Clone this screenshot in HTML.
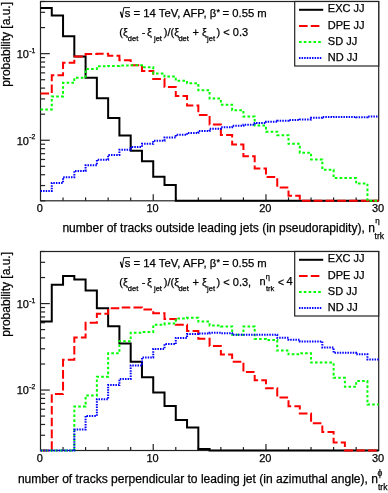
<!DOCTYPE html><html><head><meta charset="utf-8"><style>html,body{margin:0;padding:0;background:#fff;}svg{display:block;will-change:transform} text{font-family:"Liberation Sans",sans-serif;fill:#000;stroke:#000;stroke-width:0.25px}</style></head><body>
<svg width="388" height="493" viewBox="0 0 388 493">
<rect x="40.5" y="1.5" width="338.20" height="199.30" stroke="#222" stroke-width="1.2" fill="none"/>
<g stroke="#222" stroke-width="1.2" fill="none">
<line x1="40.5" y1="200.80" x2="45.1" y2="200.80"/>
<line x1="40.5" y1="185.55" x2="45.1" y2="185.55"/>
<line x1="40.5" y1="174.73" x2="45.1" y2="174.73"/>
<line x1="40.5" y1="166.33" x2="45.1" y2="166.33"/>
<line x1="40.5" y1="159.47" x2="45.1" y2="159.47"/>
<line x1="40.5" y1="153.68" x2="45.1" y2="153.68"/>
<line x1="40.5" y1="148.65" x2="45.1" y2="148.65"/>
<line x1="40.5" y1="144.22" x2="45.1" y2="144.22"/>
<line x1="40.5" y1="140.26" x2="49.8" y2="140.26"/>
<line x1="40.5" y1="114.19" x2="45.1" y2="114.19"/>
<line x1="40.5" y1="98.93" x2="45.1" y2="98.93"/>
<line x1="40.5" y1="88.11" x2="45.1" y2="88.11"/>
<line x1="40.5" y1="79.72" x2="45.1" y2="79.72"/>
<line x1="40.5" y1="72.86" x2="45.1" y2="72.86"/>
<line x1="40.5" y1="67.06" x2="45.1" y2="67.06"/>
<line x1="40.5" y1="62.04" x2="45.1" y2="62.04"/>
<line x1="40.5" y1="57.61" x2="45.1" y2="57.61"/>
<line x1="40.5" y1="53.65" x2="49.8" y2="53.65"/>
<line x1="40.5" y1="27.57" x2="45.1" y2="27.57"/>
<line x1="40.5" y1="12.32" x2="45.1" y2="12.32"/>
<line x1="40.5" y1="1.50" x2="45.1" y2="1.50"/>
<line x1="63.05" y1="200.8" x2="63.05" y2="197.4"/>
<line x1="85.59" y1="200.8" x2="85.59" y2="197.4"/>
<line x1="108.14" y1="200.8" x2="108.14" y2="197.4"/>
<line x1="130.69" y1="200.8" x2="130.69" y2="197.4"/>
<line x1="153.23" y1="200.8" x2="153.23" y2="194.3"/>
<line x1="175.78" y1="200.8" x2="175.78" y2="197.4"/>
<line x1="198.33" y1="200.8" x2="198.33" y2="197.4"/>
<line x1="220.87" y1="200.8" x2="220.87" y2="197.4"/>
<line x1="243.42" y1="200.8" x2="243.42" y2="197.4"/>
<line x1="265.97" y1="200.8" x2="265.97" y2="194.3"/>
<line x1="288.51" y1="200.8" x2="288.51" y2="197.4"/>
<line x1="311.06" y1="200.8" x2="311.06" y2="197.4"/>
<line x1="333.61" y1="200.8" x2="333.61" y2="197.4"/>
<line x1="356.15" y1="200.8" x2="356.15" y2="197.4"/>
</g>
<path d="M40.50,7.90 L51.77,7.90 L51.77,15.60 L63.05,15.60 L63.05,36.30 L74.32,36.30 L74.32,56.50 L85.59,56.50 L85.59,77.80 L96.87,77.80 L96.87,98.20 L108.14,98.20 L108.14,118.00 L119.41,118.00 L119.41,135.60 L130.69,135.60 L130.69,150.80 L141.96,150.80 L141.96,161.30 L153.23,161.30 L153.23,176.80 L164.51,176.80 L164.51,185.00 L175.78,185.00 L175.78,200.80 L187.05,200.80 L187.05,200.80 L198.33,200.80 L198.33,200.80 L209.60,200.80 L209.60,200.80 L220.87,200.80 L220.87,200.80 L232.15,200.80 L232.15,200.80 L243.42,200.80 L243.42,200.80 L254.69,200.80 L254.69,200.80 L265.97,200.80 L265.97,200.80 L277.24,200.80 L277.24,200.80 L288.51,200.80 L288.51,200.80 L299.79,200.80 L299.79,200.80 L311.06,200.80 L311.06,200.80 L322.33,200.80 L322.33,200.80 L333.61,200.80 L333.61,200.80 L344.88,200.80 L344.88,200.80 L356.15,200.80 L356.15,200.80 L367.43,200.80 L367.43,200.80 L378.70,200.80" fill="none" stroke="#000" stroke-width="2"/>
<path d="M40.50,93.60 L51.77,93.60 L51.77,75.20 L63.05,75.20 L63.05,62.80 L74.32,62.80 L74.32,56.50 L85.59,56.50 L85.59,54.00 L96.87,54.00 L96.87,53.70 L108.14,53.70 L108.14,55.80 L119.41,55.80 L119.41,60.20 L130.69,60.20 L130.69,65.20 L141.96,65.20 L141.96,71.00 L153.23,71.00 L153.23,79.00 L164.51,79.00 L164.51,87.00 L175.78,87.00 L175.78,96.00 L187.05,96.00 L187.05,105.60 L198.33,105.60 L198.33,115.00 L209.60,115.00 L209.60,124.60 L220.87,124.60 L220.87,135.00 L232.15,135.00 L232.15,144.50 L243.42,144.50 L243.42,156.20 L254.69,156.20 L254.69,168.40 L265.97,168.40 L265.97,177.10 L277.24,177.10 L277.24,187.60 L288.51,187.60 L288.51,195.70 L299.79,195.70 L299.79,200.80 L311.06,200.80 L311.06,200.80 L322.33,200.80 L322.33,200.80 L333.61,200.80 L333.61,200.80 L344.88,200.80 L344.88,200.80 L356.15,200.80 L356.15,200.80 L367.43,200.80 L367.43,200.80 L378.70,200.80" fill="none" stroke="#f00" stroke-width="2" stroke-dasharray="8.6 3.2"/>
<path d="M40.50,109.50 L51.77,109.50 L51.77,96.40 L63.05,96.40 L63.05,82.80 L74.32,82.80 L74.32,77.80 L85.59,77.80 L85.59,68.90 L96.87,68.90 L96.87,66.30 L108.14,66.30 L108.14,65.90 L119.41,65.90 L119.41,65.50 L130.69,65.50 L130.69,65.30 L141.96,65.30 L141.96,67.30 L153.23,67.30 L153.23,73.60 L164.51,73.60 L164.51,76.60 L175.78,76.60 L175.78,80.80 L187.05,80.80 L187.05,83.30 L198.33,83.30 L198.33,90.30 L209.60,90.30 L209.60,98.60 L220.87,98.60 L220.87,104.70 L232.15,104.70 L232.15,110.30 L243.42,110.30 L243.42,116.50 L254.69,116.50 L254.69,125.60 L265.97,125.60 L265.97,131.70 L277.24,131.70 L277.24,135.20 L288.51,135.20 L288.51,143.80 L299.79,143.80 L299.79,152.80 L311.06,152.80 L311.06,159.40 L322.33,159.40 L322.33,169.70 L333.61,169.70 L333.61,178.00 L344.88,178.00 L344.88,178.00 L356.15,178.00 L356.15,183.60 L367.43,183.60 L367.43,200.80 L378.70,200.80" fill="none" stroke="#0f0" stroke-width="2" stroke-dasharray="2.6 2.2"/>
<path d="M40.50,191.00 L51.77,191.00 L51.77,183.00 L63.05,183.00 L63.05,177.30 L74.32,177.30 L74.32,170.90 L85.59,170.90 L85.59,165.20 L96.87,165.20 L96.87,159.80 L108.14,159.80 L108.14,154.90 L119.41,154.90 L119.41,149.70 L130.69,149.70 L130.69,147.00 L141.96,147.00 L141.96,143.80 L153.23,143.80 L153.23,140.70 L164.51,140.70 L164.51,137.40 L175.78,137.40 L175.78,134.80 L187.05,134.80 L187.05,133.00 L198.33,133.00 L198.33,131.00 L209.60,131.00 L209.60,128.80 L220.87,128.80 L220.87,127.30 L232.15,127.30 L232.15,125.80 L243.42,125.80 L243.42,124.80 L254.69,124.80 L254.69,123.10 L265.97,123.10 L265.97,121.80 L277.24,121.80 L277.24,120.80 L288.51,120.80 L288.51,120.10 L299.79,120.10 L299.79,119.60 L311.06,119.60 L311.06,117.80 L322.33,117.80 L322.33,117.00 L333.61,117.00 L333.61,116.90 L344.88,116.90 L344.88,116.90 L356.15,116.90 L356.15,117.30 L367.43,117.30 L367.43,116.50 L378.70,116.50" fill="none" stroke="#00f" stroke-width="2" stroke-dasharray="1.5 1.1"/>
<rect x="40.5" y="251.5" width="338.20" height="199.00" stroke="#222" stroke-width="1.2" fill="none"/>
<g stroke="#222" stroke-width="1.2" fill="none">
<line x1="40.5" y1="450.50" x2="45.1" y2="450.50"/>
<line x1="40.5" y1="435.27" x2="45.1" y2="435.27"/>
<line x1="40.5" y1="424.47" x2="45.1" y2="424.47"/>
<line x1="40.5" y1="416.08" x2="45.1" y2="416.08"/>
<line x1="40.5" y1="409.24" x2="45.1" y2="409.24"/>
<line x1="40.5" y1="403.45" x2="45.1" y2="403.45"/>
<line x1="40.5" y1="398.43" x2="45.1" y2="398.43"/>
<line x1="40.5" y1="394.01" x2="45.1" y2="394.01"/>
<line x1="40.5" y1="390.05" x2="49.8" y2="390.05"/>
<line x1="40.5" y1="364.02" x2="45.1" y2="364.02"/>
<line x1="40.5" y1="348.79" x2="45.1" y2="348.79"/>
<line x1="40.5" y1="337.98" x2="45.1" y2="337.98"/>
<line x1="40.5" y1="329.60" x2="45.1" y2="329.60"/>
<line x1="40.5" y1="322.75" x2="45.1" y2="322.75"/>
<line x1="40.5" y1="316.96" x2="45.1" y2="316.96"/>
<line x1="40.5" y1="311.95" x2="45.1" y2="311.95"/>
<line x1="40.5" y1="307.53" x2="45.1" y2="307.53"/>
<line x1="40.5" y1="303.57" x2="49.8" y2="303.57"/>
<line x1="40.5" y1="277.53" x2="45.1" y2="277.53"/>
<line x1="40.5" y1="262.31" x2="45.1" y2="262.31"/>
<line x1="40.5" y1="251.50" x2="45.1" y2="251.50"/>
<line x1="63.05" y1="450.5" x2="63.05" y2="447.1"/>
<line x1="85.59" y1="450.5" x2="85.59" y2="447.1"/>
<line x1="108.14" y1="450.5" x2="108.14" y2="447.1"/>
<line x1="130.69" y1="450.5" x2="130.69" y2="447.1"/>
<line x1="153.23" y1="450.5" x2="153.23" y2="444.0"/>
<line x1="175.78" y1="450.5" x2="175.78" y2="447.1"/>
<line x1="198.33" y1="450.5" x2="198.33" y2="447.1"/>
<line x1="220.87" y1="450.5" x2="220.87" y2="447.1"/>
<line x1="243.42" y1="450.5" x2="243.42" y2="447.1"/>
<line x1="265.97" y1="450.5" x2="265.97" y2="444.0"/>
<line x1="288.51" y1="450.5" x2="288.51" y2="447.1"/>
<line x1="311.06" y1="450.5" x2="311.06" y2="447.1"/>
<line x1="333.61" y1="450.5" x2="333.61" y2="447.1"/>
<line x1="356.15" y1="450.5" x2="356.15" y2="447.1"/>
</g>
<path d="M40.50,321.60 L51.77,321.60 L51.77,284.80 L63.05,284.80 L63.05,276.00 L74.32,276.00 L74.32,279.50 L85.59,279.50 L85.59,290.50 L96.87,290.50 L96.87,308.20 L108.14,308.20 L108.14,326.20 L119.41,326.20 L119.41,343.60 L130.69,343.60 L130.69,361.80 L141.96,361.80 L141.96,377.30 L153.23,377.30 L153.23,392.40 L164.51,392.40 L164.51,405.90 L175.78,405.90 L175.78,420.00 L187.05,420.00 L187.05,427.60 L198.33,427.60 L198.33,448.90 L209.60,448.90 L209.60,450.50 L220.87,450.50 L220.87,450.50 L232.15,450.50 L232.15,450.50 L243.42,450.50 L243.42,450.50 L254.69,450.50 L254.69,450.50 L265.97,450.50 L265.97,450.50 L277.24,450.50 L277.24,450.50 L288.51,450.50 L288.51,450.50 L299.79,450.50 L299.79,450.50 L311.06,450.50 L311.06,450.50 L322.33,450.50 L322.33,450.50 L333.61,450.50 L333.61,450.50 L344.88,450.50 L344.88,450.50 L356.15,450.50 L356.15,450.50 L367.43,450.50 L367.43,450.50 L378.70,450.50" fill="none" stroke="#000" stroke-width="2"/>
<path d="M40.50,450.50 L51.77,450.50 L51.77,394.10 L63.05,394.10 L63.05,359.80 L74.32,359.80 L74.32,337.50 L85.59,337.50 L85.59,322.70 L96.87,322.70 L96.87,313.80 L108.14,313.80 L108.14,308.30 L119.41,308.30 L119.41,307.50 L130.69,307.50 L130.69,307.50 L141.96,307.50 L141.96,309.40 L153.23,309.40 L153.23,313.20 L164.51,313.20 L164.51,318.90 L175.78,318.90 L175.78,324.80 L187.05,324.80 L187.05,331.00 L198.33,331.00 L198.33,338.70 L209.60,338.70 L209.60,346.10 L220.87,346.10 L220.87,354.50 L232.15,354.50 L232.15,361.70 L243.42,361.70 L243.42,372.10 L254.69,372.10 L254.69,380.30 L265.97,380.30 L265.97,388.30 L277.24,388.30 L277.24,397.50 L288.51,397.50 L288.51,406.20 L299.79,406.20 L299.79,413.50 L311.06,413.50 L311.06,423.20 L322.33,423.20 L322.33,432.10 L333.61,432.10 L333.61,442.40 L344.88,442.40 L344.88,450.50 L356.15,450.50 L356.15,450.50 L367.43,450.50 L367.43,450.50 L378.70,450.50" fill="none" stroke="#f00" stroke-width="2" stroke-dasharray="8.6 3.2"/>
<path d="M40.50,450.50 L51.77,450.50 L51.77,450.50 L63.05,450.50 L63.05,450.50 L74.32,450.50 L74.32,406.60 L85.59,406.60 L85.59,395.50 L96.87,395.50 L96.87,376.80 L108.14,376.80 L108.14,353.30 L119.41,353.30 L119.41,341.20 L130.69,341.20 L130.69,332.70 L141.96,332.70 L141.96,332.00 L153.23,332.00 L153.23,324.80 L164.51,324.80 L164.51,323.50 L175.78,323.50 L175.78,318.60 L187.05,318.60 L187.05,317.80 L198.33,317.80 L198.33,321.60 L209.60,321.60 L209.60,325.50 L220.87,325.50 L220.87,326.50 L232.15,326.50 L232.15,334.70 L243.42,334.70 L243.42,326.50 L254.69,326.50 L254.69,338.90 L265.97,338.90 L265.97,340.10 L277.24,340.10 L277.24,350.60 L288.51,350.60 L288.51,354.30 L299.79,354.30 L299.79,353.30 L311.06,353.30 L311.06,362.60 L322.33,362.60 L322.33,362.60 L333.61,362.60 L333.61,377.80 L344.88,377.80 L344.88,386.70 L356.15,386.70 L356.15,381.10 L367.43,381.10 L367.43,404.60 L378.70,404.60" fill="none" stroke="#0f0" stroke-width="2" stroke-dasharray="2.6 2.2"/>
<path d="M40.50,450.50 L51.77,450.50 L51.77,450.50 L63.05,450.50 L63.05,450.50 L74.32,450.50 L74.32,429.50 L85.59,429.50 L85.59,415.90 L96.87,415.90 L96.87,399.30 L108.14,399.30 L108.14,385.00 L119.41,385.00 L119.41,379.00 L130.69,379.00 L130.69,365.50 L141.96,365.50 L141.96,357.50 L153.23,357.50 L153.23,349.00 L164.51,349.00 L164.51,344.10 L175.78,344.10 L175.78,337.90 L187.05,337.90 L187.05,334.10 L198.33,334.10 L198.33,333.50 L209.60,333.50 L209.60,332.80 L220.87,332.80 L220.87,333.20 L232.15,333.20 L232.15,334.70 L243.42,334.70 L243.42,334.70 L254.69,334.70 L254.69,334.70 L265.97,334.70 L265.97,334.70 L277.24,334.70 L277.24,337.80 L288.51,337.80 L288.51,339.80 L299.79,339.80 L299.79,341.40 L311.06,341.40 L311.06,341.40 L322.33,341.40 L322.33,347.50 L333.61,347.50 L333.61,352.70 L344.88,352.70 L344.88,352.70 L356.15,352.70 L356.15,354.30 L367.43,354.30 L367.43,359.50 L378.70,359.50" fill="none" stroke="#00f" stroke-width="2" stroke-dasharray="1.5 1.1"/>
<path d="M120.4,11.8 L122.2,17.6" stroke="#000" stroke-width="1.4" fill="none"/>
<path d="M122.2,17.6 L123.8,7.6 L130,7.6" stroke="#000" stroke-width="0.9" fill="none"/>
<text font-family="Liberation Sans" x="124.8" y="17.3" font-size="11.3" text-anchor="start" >s = 14 TeV, AFP, β</text>
<text font-family="Liberation Sans" x="216.6" y="14.6" font-size="9" text-anchor="start" >*</text>
<text font-family="Liberation Sans" x="222.5" y="17.3" font-size="11.3" text-anchor="start" >= 0.55 m</text>
<text font-family="Liberation Sans" x="119.3" y="35.8" font-size="11" text-anchor="start" >(ξ</text>
<text font-family="Liberation Sans" x="127.8" y="41.3" font-size="7.5" text-anchor="start" >det</text>
<text font-family="Liberation Sans" x="141.7" y="35.8" font-size="11" text-anchor="start" >-</text>
<text font-family="Liberation Sans" x="147.0" y="35.8" font-size="11" text-anchor="start" >ξ</text>
<text font-family="Liberation Sans" x="154.0" y="41.3" font-size="7.5" text-anchor="start" >jet</text>
<text font-family="Liberation Sans" x="163.8" y="35.8" font-size="11" text-anchor="start" >)/(ξ</text>
<text font-family="Liberation Sans" x="178.4" y="41.3" font-size="7.5" text-anchor="start" >det</text>
<text font-family="Liberation Sans" x="192.6" y="35.8" font-size="11" text-anchor="start" >+ ξ</text>
<text font-family="Liberation Sans" x="207.1" y="41.3" font-size="7.5" text-anchor="start" >jet</text>
<text font-family="Liberation Sans" x="216.6" y="35.8" font-size="11" text-anchor="start" >) &lt; 0.3</text>
<rect x="294.7" y="1.5" width="84.0" height="64.5" fill="#fff" stroke="#222" stroke-width="1.2"/>
<path d="M299,9.8 L323.2,9.8" fill="none" stroke="#000" stroke-width="2"/>
<text font-family="Liberation Sans" x="327.8" y="12.4" font-size="11" text-anchor="start" >EXC JJ</text>
<path d="M299,25.900000000000002 L319.6,25.900000000000002" fill="none" stroke="#f00" stroke-width="2" stroke-dasharray="8.6 3.2"/>
<text font-family="Liberation Sans" x="327.8" y="28.500000000000004" font-size="11" text-anchor="start" >DPE JJ</text>
<path d="M299,42.0 L321,42.0" fill="none" stroke="#0f0" stroke-width="2" stroke-dasharray="2.6 2.2"/>
<text font-family="Liberation Sans" x="327.8" y="44.6" font-size="11" text-anchor="start" >SD JJ</text>
<path d="M299,58.10000000000001 L322,58.10000000000001" fill="none" stroke="#00f" stroke-width="2" stroke-dasharray="1.5 1.1"/>
<text font-family="Liberation Sans" x="327.8" y="60.70000000000001" font-size="11" text-anchor="start" >ND JJ</text>
<text font-family="Liberation Sans" x="28.9" y="58.046454630218186" font-size="11" text-anchor="end" >10</text>
<text font-family="Liberation Sans" x="29.3" y="52.84645463021819" font-size="6.8" text-anchor="start" >-1</text>
<text font-family="Liberation Sans" x="28.9" y="144.65984097266366" font-size="11" text-anchor="end" >10</text>
<text font-family="Liberation Sans" x="29.3" y="139.45984097266364" font-size="6.8" text-anchor="start" >-2</text>
<text font-family="Liberation Sans" x="39.80" y="212.4" font-size="11" text-anchor="middle" >0</text>
<text font-family="Liberation Sans" x="152.53" y="212.4" font-size="11" text-anchor="middle" >10</text>
<text font-family="Liberation Sans" x="265.27" y="212.4" font-size="11" text-anchor="middle" >20</text>
<text font-family="Liberation Sans" x="378.00" y="212.4" font-size="11" text-anchor="middle" >30</text>
<text font-family="Liberation Sans" transform="translate(10.2,2) rotate(-90)" font-size="12" text-anchor="end">probability [a.u.]</text>
<path d="M120.4,261.8 L122.2,267.6" stroke="#000" stroke-width="1.4" fill="none"/>
<path d="M122.2,267.6 L123.8,257.6 L130,257.6" stroke="#000" stroke-width="0.9" fill="none"/>
<text font-family="Liberation Sans" x="124.8" y="267.3" font-size="11.3" text-anchor="start" >s = 14 TeV, AFP, β</text>
<text font-family="Liberation Sans" x="216.6" y="264.6" font-size="9" text-anchor="start" >*</text>
<text font-family="Liberation Sans" x="222.5" y="267.3" font-size="11.3" text-anchor="start" >= 0.55 m</text>
<text font-family="Liberation Sans" x="119.3" y="285.8" font-size="11" text-anchor="start" >(ξ</text>
<text font-family="Liberation Sans" x="127.8" y="291.3" font-size="7.5" text-anchor="start" >det</text>
<text font-family="Liberation Sans" x="141.7" y="285.8" font-size="11" text-anchor="start" >-</text>
<text font-family="Liberation Sans" x="147.0" y="285.8" font-size="11" text-anchor="start" >ξ</text>
<text font-family="Liberation Sans" x="154.0" y="291.3" font-size="7.5" text-anchor="start" >jet</text>
<text font-family="Liberation Sans" x="163.8" y="285.8" font-size="11" text-anchor="start" >)/(ξ</text>
<text font-family="Liberation Sans" x="178.4" y="291.3" font-size="7.5" text-anchor="start" >det</text>
<text font-family="Liberation Sans" x="192.6" y="285.8" font-size="11" text-anchor="start" >+ ξ</text>
<text font-family="Liberation Sans" x="207.1" y="291.3" font-size="7.5" text-anchor="start" >jet</text>
<text font-family="Liberation Sans" x="216.6" y="285.8" font-size="11" text-anchor="start" >) &lt; 0.3,</text>
<text font-family="Liberation Sans" x="259.6" y="285.40000000000003" font-size="11" text-anchor="start" >n</text>
<text font-family="Liberation Sans" x="265.8" y="278.6" font-size="7.5" text-anchor="start" >η</text>
<text font-family="Liberation Sans" x="265.9" y="291.1" font-size="7.5" text-anchor="start" >trk</text>
<text font-family="Liberation Sans" x="277.9" y="285.5" font-size="10.3" text-anchor="start" >&lt;</text>
<text font-family="Liberation Sans" x="286.6" y="285.40000000000003" font-size="11" text-anchor="start" >4</text>
<rect x="294.7" y="251.5" width="84.0" height="64.5" fill="#fff" stroke="#222" stroke-width="1.2"/>
<path d="M299,259.8 L323.2,259.8" fill="none" stroke="#000" stroke-width="2"/>
<text font-family="Liberation Sans" x="327.8" y="262.40000000000003" font-size="11" text-anchor="start" >EXC JJ</text>
<path d="M299,275.9 L319.6,275.9" fill="none" stroke="#f00" stroke-width="2" stroke-dasharray="8.6 3.2"/>
<text font-family="Liberation Sans" x="327.8" y="278.5" font-size="11" text-anchor="start" >DPE JJ</text>
<path d="M299,292.0 L321,292.0" fill="none" stroke="#0f0" stroke-width="2" stroke-dasharray="2.6 2.2"/>
<text font-family="Liberation Sans" x="327.8" y="294.6" font-size="11" text-anchor="start" >SD JJ</text>
<path d="M299,308.1 L322,308.1" fill="none" stroke="#00f" stroke-width="2" stroke-dasharray="1.5 1.1"/>
<text font-family="Liberation Sans" x="327.8" y="310.70000000000005" font-size="11" text-anchor="start" >ND JJ</text>
<text font-family="Liberation Sans" x="28.9" y="307.9679602178295" font-size="11" text-anchor="end" >10</text>
<text font-family="Liberation Sans" x="29.3" y="302.7679602178295" font-size="6.8" text-anchor="start" >-1</text>
<text font-family="Liberation Sans" x="28.9" y="394.45097016337206" font-size="11" text-anchor="end" >10</text>
<text font-family="Liberation Sans" x="29.3" y="389.2509701633721" font-size="6.8" text-anchor="start" >-2</text>
<text font-family="Liberation Sans" x="39.80" y="462.4" font-size="11" text-anchor="middle" >0</text>
<text font-family="Liberation Sans" x="152.53" y="462.4" font-size="11" text-anchor="middle" >10</text>
<text font-family="Liberation Sans" x="265.27" y="462.4" font-size="11" text-anchor="middle" >20</text>
<text font-family="Liberation Sans" x="378.00" y="462.4" font-size="11" text-anchor="middle" >30</text>
<text font-family="Liberation Sans" transform="translate(10.2,252) rotate(-90)" font-size="12" text-anchor="end">probability [a.u.]</text>
<text font-family="Liberation Sans" x="62.4" y="231.6" font-size="12.07" text-anchor="start" >number of tracks outside leading jets (in pseudorapidity), n</text>
<text font-family="Liberation Sans" x="375.2" y="223.4" font-size="8" text-anchor="start" >η</text>
<text font-family="Liberation Sans" x="374.6" y="238.9" font-size="8.6" text-anchor="start" >trk</text>
<text font-family="Liberation Sans" x="17.9" y="482.8" font-size="12.07" text-anchor="start" >number of tracks perpendicular to leading jet (in azimuthal angle), n</text>
<text font-family="Liberation Sans" x="377.6" y="475.6" font-size="8.5" text-anchor="start" >ϕ</text>
<text font-family="Liberation Sans" x="377.9" y="489.6" font-size="8.6" text-anchor="start" >trk</text>
</svg></body></html>
